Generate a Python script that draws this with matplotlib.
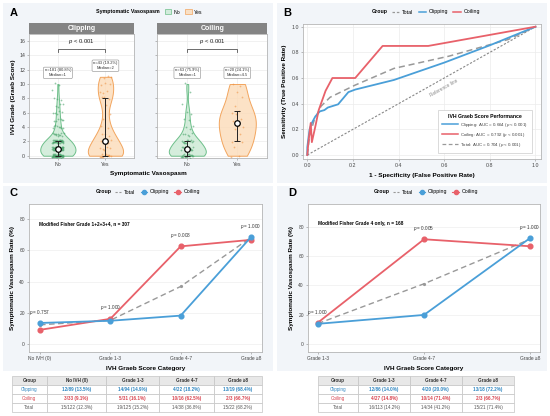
import numpy as np
import matplotlib
matplotlib.use('Agg')
import matplotlib.pyplot as plt
from matplotlib.patches import Rectangle, Patch
from matplotlib.lines import Line2D

plt.rcParams['font.family'] = ['Liberation Sans', 'DejaVu Sans']
plt.rcParams['mathtext.fontset'] = 'custom'
plt.rcParams['mathtext.it'] = 'Liberation Sans:italic'
plt.rcParams['mathtext.rm'] = 'Liberation Sans'

# ---------------- DATA ----------------
# Panel A: counts of patients per Graeb score (0..11)
graeb_scores = np.arange(0, 12)
clip_no_counts = [50, 50, 40, 12, 8, 6, 5, 4, 3, 1, 2, 0]
clip_yes_counts = [12, 5, 6, 3, 2, 1, 1, 1, 3, 3, 3, 3]
coil_no_counts = [20, 16, 12, 5, 3, 2, 2, 1, 0, 1, 1, 0]
coil_yes_counts = [2, 1, 3, 1, 3, 2, 3, 1, 1, 1, 2, 0]
vaso_labels = ['No', 'Yes']
facet_titles = ['Clipping', 'Coiling']
facet_pvals = ['< 0.001', '< 0.001']

# Panel B: ROC curves
clip_fpr = [0, 0.0, 0.01, 0.02, 0.035, 0.055, 0.075, 0.09, 0.135, 0.18, 0.21, 0.38, 0.6, 0.8, 1.0]
clip_tpr = [0, 0.06, 0.20, 0.25, 0.30, 0.34, 0.35, 0.37, 0.395, 0.49, 0.51, 0.585, 0.72, 0.855, 1.0]
coil_fpr = [0, 0.005, 0.015, 0.02, 0.035, 0.05, 0.08, 0.11, 0.21, 0.33, 0.53, 1.0]
coil_tpr = [0, 0.10, 0.25, 0.10, 0.22, 0.35, 0.50, 0.60, 0.60, 0.85, 0.85, 1.0]
tot_fpr = [0, 0.01, 0.03, 0.06, 0.10, 0.21, 0.38, 0.62, 0.88, 1.0]
tot_tpr = [0, 0.15, 0.27, 0.38, 0.45, 0.545, 0.675, 0.77, 0.90, 1.0]
roc_labels = ['Clipping: AUC = 0.664 ($p$ < 0.001)',
              'Coiling: AUC = 0.792 ($p$ < 0.001)',
              'Total: AUC = 0.704 ($p$ < 0.001)']

# Panel C
c_categories = ['No IVH (0)', 'Grade 1-3', 'Grade 4-7', 'Grade \u22658']
c_clip_events = [12, 14, 4, 13]
c_clip_totals = [89, 94, 22, 19]
c_coil_events = [3, 5, 10, 2]
c_coil_totals = [33, 31, 16, 3]
c_tot_events = [15, 19, 14, 15]
c_tot_totals = [122, 125, 38, 22]
c_pvals = ['0.757', '1.000', '0.008', '1.000']
c_note = 'Modified Fisher Grade 1+2+3+4, n = 307'

# Panel D
d_categories = ['Grade 1-3', 'Grade 4-7', 'Grade \u22658']
d_clip_events = [12, 4, 13]
d_clip_totals = [86, 20, 18]
d_coil_events = [4, 10, 2]
d_coil_totals = [27, 14, 3]
d_tot_events = [16, 14, 15]
d_tot_totals = [113, 34, 21]
d_pvals = ['1.000', '0.005', '1.000']
d_note = 'Modified Fisher Grade 4 only, n = 168'

# ---------------- STYLE ----------------
W, H = 550, 416
BLUE = '#4a9fd8'
RED = '#e8616a'
GRAY = '#999999'
GREEN_F = (0.78, 0.91, 0.82, 0.75)
GREEN_E = '#6dbf8a'
GREEN_P = '#3f9e62'
ORANGE_F = (0.99, 0.86, 0.72, 0.8)
ORANGE_E = '#f2a55e'
ORANGE_P = '#ee8f3e'
PANEL_BG = '#f2f5f9'
SPINE = '#b5b5b5'
TICK_FS = 3.8
LAB_FS = 4.6
LEG_FS = 3.8
VIOLIN_BW = [[0.75, 1.1], [0.75, 1.6]]   # kernel bandwidth (score units) per facet, No / Yes

fig = plt.figure(figsize=(5.5, 4.16), dpi=100)


def rect(x0, y0, x1, y1):
    return [x0 / W, 1 - y1 / H, (x1 - x0) / W, (y1 - y0) / H]


def fx(x):
    return x / W


def fy(y):
    return 1 - y / H


for (x0, y0, x1, y1) in [(3, 3, 273, 183), (277, 3, 547, 183),
                         (3, 186, 273, 371), (277, 186, 547, 371)]:
    fig.patches.append(Rectangle((x0 / W, 1 - y1 / H), (x1 - x0) / W, (y1 - y0) / H,
                                 transform=fig.transFigure, facecolor=PANEL_BG,
                                 edgecolor='none', zorder=-10))

for lab, (x, y) in zip('ABCD', [(13.5, 13), (287, 13), (14, 192.5), (292, 192.5)]):
    fig.text(fx(x), fy(y), lab, fontsize=8, fontweight='bold', ha='center', va='center')


def style_axes(ax):
    for s in ax.spines.values():
        s.set_color(SPINE)
        s.set_linewidth(0.6)
    ax.tick_params(labelsize=TICK_FS, length=1.5, width=0.4, color='#888888',
                   labelcolor='#444444', pad=1.5)
    ax.set_facecolor('white')


def bw_factory(bw):
    def f(kde):
        return bw / kde.dataset.ravel().std(ddof=1)
    return f


# ---------------- PANEL A ----------------
facet_boxes = [(29.3, 134.0), (157.3, 267.3)]
facet_counts = [(clip_no_counts, clip_yes_counts), (coil_no_counts, coil_yes_counts)]
fills = [GREEN_F, ORANGE_F]
edges = [GREEN_E, ORANGE_E]
pcols = [GREEN_P, ORANGE_P]
for fi, ((x0, x1), counts) in enumerate(zip(facet_boxes, facet_counts)):
    sax = fig.add_axes(rect(x0, 22.7, x1, 34.3))
    sax.set_facecolor('#848484')
    sax.set_xticks([]); sax.set_yticks([])
    for s in sax.spines.values():
        s.set_visible(False)
    sax.text(0.5, 0.5, facet_titles[fi], color='white', fontsize=5, fontweight='bold',
             ha='center', va='center', transform=sax.transAxes)

    ax = fig.add_axes(rect(x0, 34.3, x1, 158.3))
    style_axes(ax)
    data = [np.repeat(graeb_scores, c) for c in counts]
    total_n = sum(len(d) for d in data)
    for i, d in enumerate(data):
        parts = ax.violinplot([d], positions=[i], widths=0.74, showextrema=False,
                              bw_method=bw_factory(VIOLIN_BW[fi][i]))
        body = parts['bodies'][0]
        body.set_alpha(None)
        body.set_facecolor(fills[i])
        body.set_edgecolor(edges[i])
        body.set_linewidth(0.7)
        body.set_zorder(2)
        idx = np.arange(len(d))
        jx = ((idx * 0.6180339) % 1 - 0.5) * 0.24
        jy = ((idx * 0.4142135 + 0.13) % 1 - 0.5) * 0.5
        ax.scatter(i + jx, d + jy, s=1.6, color=pcols[i], alpha=0.55, lw=0, zorder=3)
        med = np.median(d)
        q1, q3 = np.percentile(d, [25, 75])
        ax.errorbar(i, med, yerr=[[med - q1], [q3 - med]], fmt='none', ecolor='#222222',
                    elinewidth=0.7, capsize=2.0, capthick=0.7, zorder=4)
        ax.scatter(i, med, s=16, facecolor='white', edgecolor='black', lw=0.9, zorder=5)
        ax.text(i, d.max() + 1.55,
                f"n={len(d)} ({len(d) / total_n * 100:.1f}%)\nMedian={med:g}",
                ha='center', va='center', fontsize=2.9, color='#333333', linespacing=1.35,
                bbox=dict(boxstyle='round,pad=0.3', fc='white', ec='#8a8a8a', lw=0.4), zorder=6)
    ax.plot([0, 0, 1, 1], [14.45, 14.9, 14.9, 14.45], color='#555555', lw=0.6)
    ax.text(0.5, 15.25, f"$p$ {facet_pvals[fi]}", ha='center', va='bottom', fontsize=4.2,
            color='#222222')
    ax.set_xlim(-0.6, 1.6)
    ax.set_ylim(-0.36, 16.93)
    ax.set_xticks([0, 1])
    ax.set_xticklabels(vaso_labels)
    ax.set_yticks(range(0, 17, 2))
    ax.grid(True, color='#ececec', lw=0.5)
    ax.set_axisbelow(True)
    if fi == 0:
        ax.set_ylabel('IVH Grade (Graeb Score)', fontsize=LAB_FS, fontweight='bold', labelpad=2)
    else:
        ax.tick_params(labelleft=False)

fig.text(fx(148), fy(173.5), 'Symptomatic Vasospasm', fontsize=LAB_FS, fontweight='bold',
         ha='center', va='center')
fig.text(fx(96.5), fy(12), 'Symptomatic Vasospasm', fontsize=LEG_FS, fontweight='bold',
         ha='left', va='center')
fig.legend(handles=[Patch(facecolor=GREEN_F, edgecolor=GREEN_E, lw=0.5),
                    Patch(facecolor=ORANGE_F, edgecolor=ORANGE_E, lw=0.5)],
           labels=vaso_labels, loc='center left', bbox_to_anchor=(fx(165), fy(12)),
           ncol=2, frameon=False, fontsize=LEG_FS, handlelength=1.2, handleheight=1.0,
           columnspacing=1.0, handletextpad=0.4, borderaxespad=0, borderpad=0)

# ---------------- PANEL B ----------------
axb = fig.add_axes(rect(303.3, 24, 540.7, 159.3))
style_axes(axb)
axb.plot([0, 1], [0, 1], color='#888888', lw=0.8, ls=(0, (2, 1.5)), zorder=1)
axb.plot(tot_fpr, tot_tpr, color=GRAY, lw=1.1, ls=(0, (4, 2.5)), zorder=2)
axb.plot(clip_fpr, clip_tpr, color=BLUE, lw=1.3, zorder=3)
axb.plot(coil_fpr, coil_tpr, color=RED, lw=1.3, zorder=4)
axb.text(0.60, 0.525, 'Reference line', rotation=45, transform_rotates_text=True,
         rotation_mode='anchor', ha='center', va='center', fontsize=3.4, color='#8c8c8c')
axb.set_xlim(-0.0175, 1.0228)
axb.set_ylim(-0.0335, 1.021)
ticks = np.arange(0, 1.01, 0.2)
axb.set_xticks(ticks); axb.set_yticks(ticks)
axb.set_xticklabels([f"{t:.1f}" for t in ticks])
axb.set_yticklabels([f"{t:.1f}" for t in ticks])
axb.grid(True, color='#ececec', lw=0.5)
axb.set_axisbelow(True)
axb.set_xlabel('1 - Specificity (False Positive Rate)', fontsize=LAB_FS, fontweight='bold',
               labelpad=3)
axb.set_ylabel('Sensitivity (True Positive Rate)', fontsize=LAB_FS, fontweight='bold',
               labelpad=3)
leg = axb.legend(handles=[Line2D([], [], color=BLUE, lw=1.1),
                          Line2D([], [], color=RED, lw=1.1),
                          Line2D([], [], color=GRAY, lw=0.9, ls=(0, (3, 2)))],
                 labels=roc_labels, loc='lower right', bbox_to_anchor=(0.972, 0.03),
                 fontsize=3.2, title='IVH Graeb Score Performance',
                 title_fontproperties={'weight': 'bold', 'size': 3.7},
                 frameon=True, fancybox=False, edgecolor='#cccccc', framealpha=1,
                 borderpad=0.9, handlelength=3.6, labelspacing=0.45, handletextpad=0.5)
leg.get_frame().set_linewidth(0.5)
for t in leg.get_texts():
    t.set_color('#444444')
fig.text(fx(371.5), fy(12), 'Group', fontsize=LEG_FS, fontweight='bold', ha='left', va='center')
fig.legend(handles=[Line2D([], [], color=GRAY, lw=0.9, ls=(0, (2, 1.5))),
                    Line2D([], [], color=BLUE, lw=1.1),
                    Line2D([], [], color=RED, lw=1.1)],
           labels=['Total', 'Clipping', 'Coiling'], loc='center left',
           bbox_to_anchor=(fx(392), fy(12)), ncol=3, frameon=False, fontsize=LEG_FS,
           handlelength=1.4, columnspacing=1.0, handletextpad=0.5, borderaxespad=0, borderpad=0)


# ---------------- PANELS C & D ----------------
def rate_panel(box, cats, ce, ct, oe, ot, te, tt, pvals, note, xlim, ylim):
    ax = fig.add_axes(rect(*box))
    style_axes(ax)
    x = np.arange(len(cats))
    cr = np.array(ce) / np.array(ct) * 100
    orr = np.array(oe) / np.array(ot) * 100
    tr = np.array(te) / np.array(tt) * 100
    ax.plot(x, tr, color=GRAY, lw=1.0, ls=(0, (4, 2.5)), marker='o', ms=1.3, zorder=2)
    ax.plot(x, orr, color=RED, lw=1.3, marker='o', ms=3.4, zorder=3)
    ax.plot(x, cr, color=BLUE, lw=1.3, marker='o', ms=3.4, zorder=4)
    for xi, pv, a, b in zip(x, pvals, cr, orr):
        ax.text(xi, max(a, b) + 7, f"$p$ = {pv}", ha='center', va='center', fontsize=3.3,
                color='#333333')
    ax.text(0.045, 0.867, note, transform=ax.transAxes, fontsize=3.4, fontweight='bold',
            ha='left', va='center')
    ax.set_xlim(*xlim)
    ax.set_ylim(*ylim)
    ax.set_xticks(x)
    ax.set_xticklabels(cats)
    ax.set_yticks([0, 20, 40, 60, 80])
    ax.tick_params(labelsize=3.5)
    ax.grid(True, axis='y', color='#eeeeee', lw=0.5)
    ax.set_axisbelow(True)
    ax.set_xlabel('IVH Graeb Score Category', fontsize=LAB_FS, fontweight='bold', labelpad=3.5)
    ax.set_ylabel('Symptomatic Vasospasm Rate (%)', fontsize=LAB_FS, fontweight='bold',
                  labelpad=3)
    return ax


rate_panel((29, 204, 262, 351.7), c_categories, c_clip_events, c_clip_totals,
           c_coil_events, c_coil_totals, c_tot_events, c_tot_totals, c_pvals, c_note,
           (-0.157, 3.157), (-4.9, 89.6))
rate_panel((308, 204, 540, 351.7), d_categories, d_clip_events, d_clip_totals,
           d_coil_events, d_coil_totals, d_tot_events, d_tot_totals, d_pvals, d_note,
           (-0.094, 2.094), (-5.0, 95.4))

for gx, lx in [(96, 115), (373.5, 393)]:
    fig.text(fx(gx), fy(192), 'Group', fontsize=LEG_FS, fontweight='bold', ha='left',
             va='center')
    fig.legend(handles=[Line2D([], [], color=GRAY, lw=0.8, ls=(0, (2, 1.5))),
                        Line2D([], [], color=BLUE, lw=0.8, marker='o', ms=3),
                        Line2D([], [], color=RED, lw=0.8, marker='o', ms=3)],
               labels=['Total', 'Clipping', 'Coiling'], loc='center left',
               bbox_to_anchor=(fx(lx), fy(192)), ncol=3, frameon=False, fontsize=LEG_FS,
               handlelength=1.2, columnspacing=1.0, handletextpad=0.5, borderaxespad=0,
               borderpad=0)


# ---------------- TABLES ----------------
def fmt_row(ev, tot):
    return [f"{e}/{n} ({e / n * 100:.1f}%)" for e, n in zip(ev, tot)]


def draw_table(box, cats, col_w, rows):
    tax = fig.add_axes(rect(*box))
    tax.axis('off')
    cell_text = [['Clipping'] + fmt_row(*rows[0]),
                 ['Coiling'] + fmt_row(*rows[1]),
                 ['Total'] + fmt_row(*rows[2])]
    tbl = tax.table(cellText=cell_text, colLabels=['Group'] + cats,
                    colWidths=list(np.array(col_w) / sum(col_w)),
                    bbox=[0, 0, 1, 1], cellLoc='center')
    tbl.auto_set_font_size(False)
    tbl.set_fontsize(3.3)
    colors = ['#333333', '#2e86c1', '#d9434e', '#555555']
    for (r, c), cell in tbl.get_celld().items():
        cell.set_edgecolor('#c4c4c4')
        cell.set_linewidth(0.5)
        txt = cell.get_text()
        txt.set_color(colors[r])
        if r == 0:
            cell.set_facecolor('#e8e8e8')
            txt.set_fontweight('bold')
        else:
            cell.set_facecolor('white')
            if r in (1, 2) and c > 0:
                txt.set_fontweight('bold')


draw_table((11.7, 375.7, 261.7, 412.3), c_categories, [35, 59, 53, 54, 48],
           [(c_clip_events, c_clip_totals), (c_coil_events, c_coil_totals),
            (c_tot_events, c_tot_totals)])
draw_table((317.7, 375.7, 514.3, 412.3), d_categories, [40.7, 51.7, 51.7, 52.7],
           [(d_clip_events, d_clip_totals), (d_coil_events, d_coil_totals),
            (d_tot_events, d_tot_totals)])

fig.savefig('out.png', dpi=100, facecolor='white')
